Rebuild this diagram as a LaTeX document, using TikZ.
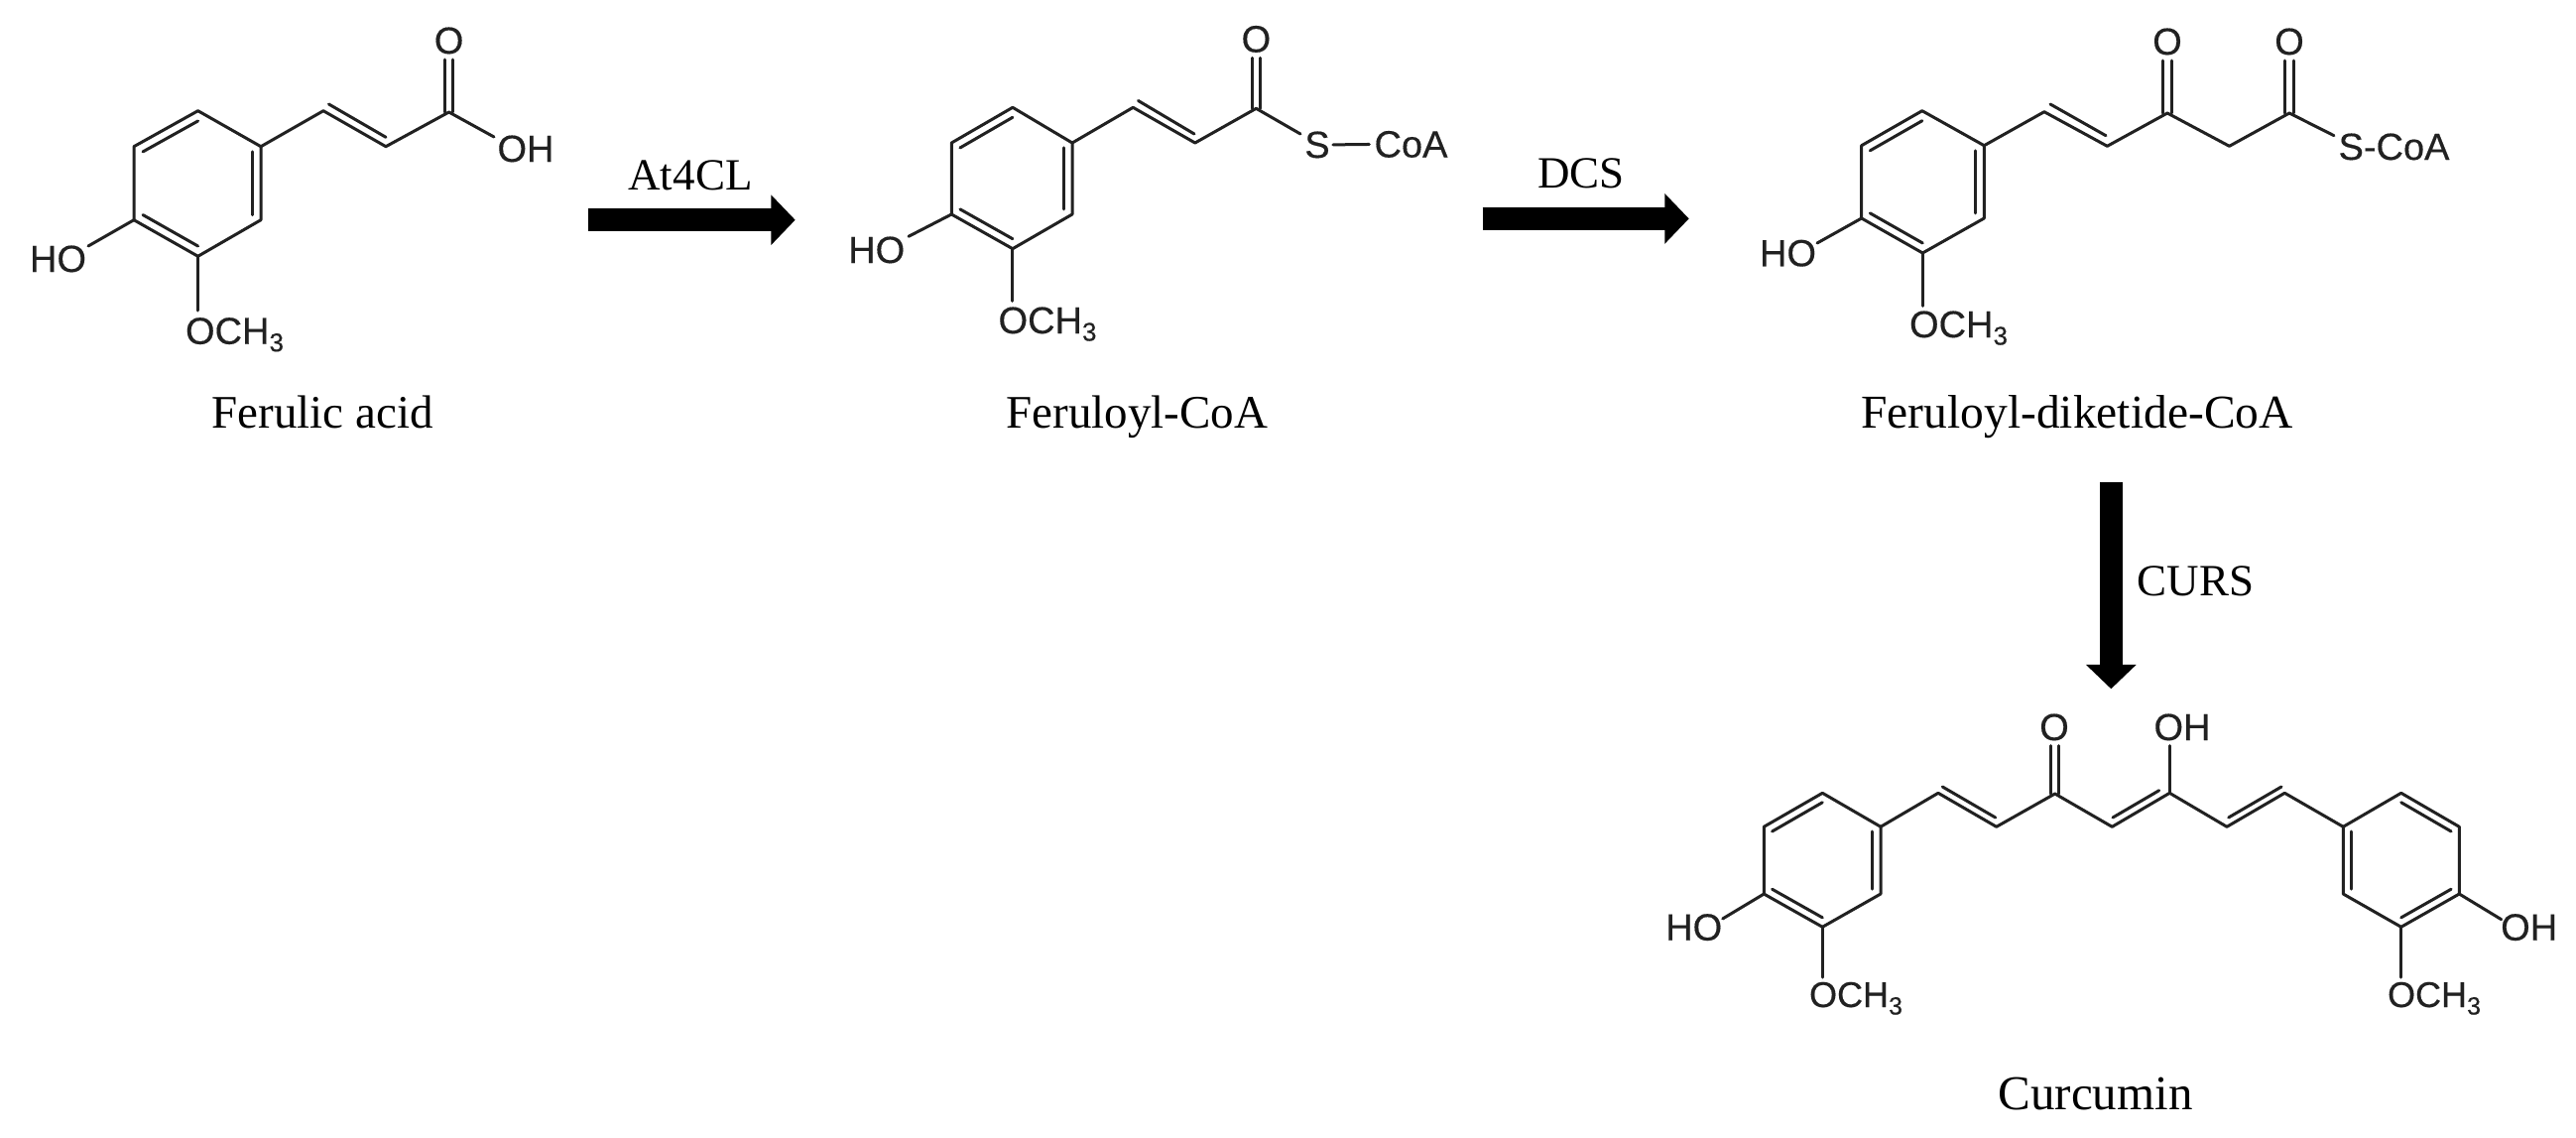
\documentclass[tikz,border=0pt]{standalone}
\usepackage{fontspec}
\setmainfont{Liberation Serif}
\newfontfamily\chemfont[FakeBold=0.35]{Liberation Sans}
\usetikzlibrary{calc,arrows.meta}
\definecolor{inkdark}{gray}{0.13}
\newcommand{\atomsize}[1]{\fontsize{#1}{#1}\selectfont}
\newcommand{\och}[1]{OCH\raisebox{-7.5pt}{\fontsize{#1}{#1}\selectfont 3}}
\newcommand{\ringbonds}[1]{%
  \coordinate (#1o) at ($(#1a)!.5!(#1d)$);
  \draw[bond] (#1a)--(#1b)--(#1c)--(#1d)--(#1e)--(#1f)--cycle;}
\newcommand{\innerbond}[3]{\draw[bond] ($(#1#2)!.14!(#1o)$) -- ($(#1#3)!.14!(#1o)$);}
\newcommand{\carbonyl}[2]{%
  \draw[bond] ([xshift=-4.2pt]#1) -- ([xshift=-4.2pt]#2);
  \draw[bond] ([xshift=4.2pt]#1) -- ([xshift=4.2pt]#2);}
\tikzset{
  x=1pt,y=-1pt,
  bond/.style={draw=inkdark,line width=3pt,line join=round,line cap=round},
  atom/.style={font=\chemfont\atomsize{38},text=inkdark,inner sep=0pt,anchor=base},
  atomsm/.style={font=\chemfont\atomsize{36},text=inkdark,inner sep=0pt,anchor=base},
  title/.style={font=\atomsize{47},text=black,inner sep=0pt,anchor=base},
  enzyme/.style={font=\atomsize{45},text=black,inner sep=0pt,anchor=base},
  fatarrow/.style={line width=23.3pt,draw=black,-{Triangle[length=24.4pt,width=49.3pt]}},
}
\begin{document}
\begin{tikzpicture}
\useasboundingbox (0,0) rectangle (2597,1146);
\fill[white] (0,0) rectangle (2597,1146);

%% Ferulic acid
\foreach \n/\x/\y in {a/199.6/111.7,b/263/147.7,c/263/221.7,d/199.6/258.3,e/135/221.7,f/135/147.7}
  \coordinate (A\n) at (\x,\y);
\ringbonds{A}
\innerbond{A}{f}{a}\innerbond{A}{b}{c}\innerbond{A}{e}{d}
\coordinate (A1) at (326,111.7);
\coordinate (A2) at (389,147.7);
\coordinate (A3) at (452.6,113);
\coordinate (A3o) at (452.6,60);
\coordinate (A3s) at (498,138);
\coordinate (Aho) at (89,248);
\coordinate (Ame) at (199.6,313);
\draw[bond] (Ab) -- (A1) -- (A2) -- (A3) -- (A3s);
\draw[bond] (331.5,105) -- (389,138.3);
\carbonyl{A3}{A3o}
\draw[bond] (Ae) -- (Aho);
\draw[bond] (Ad) -- (Ame);
\node[atom] (Ao) at (452.6,54) {O};
\node[atom] (Aoh) at (530,163) {OH};
\node[atom] (Ahot) at (58.5,274) {HO};
\node[atom] (Aoc) at (236.5,346.7) {\och{26}};
\node[title] (t1) at (325,431.7) {Ferulic acid};

%% Arrow 1
\coordinate (s1) at (593.3,221.7);
\coordinate (e1) at (801.7,221.7);
\draw[fatarrow] (s1) -- (e1);
\node[enzyme] (at4cl) at (696,191.7) {At4CL};

%% Feruloyl-CoA
\foreach \n/\x/\y in {a/1020.9/108.3,b/1081/144,c/1081/216,d/1020.9/250.7,e/959.3/216,f/959.3/144}
  \coordinate (B\n) at (\x,\y);
\ringbonds{B}
\innerbond{B}{f}{a}\innerbond{B}{b}{c}\innerbond{B}{e}{d}
\coordinate (B1) at (1142.3,108.3);
\coordinate (B2) at (1204.8,144);
\coordinate (B3) at (1266.4,109.3);
\coordinate (B3o) at (1266.4,58.3);
\coordinate (B3s) at (1311,135);
\coordinate (Bho) at (916,238.3);
\coordinate (Bme) at (1020.9,303.3);
\draw[bond] (Bb) -- (B1) -- (B2) -- (B3) -- (B3s);
\draw[bond] (1147.5,101.5) -- (1204,135);
\carbonyl{B3}{B3o}
\draw[bond] (Be) -- (Bho);
\draw[bond] (Bd) -- (Bme);
\node[atom] (Bo) at (1266.4,52.5) {O};
\node[atom] (Bst) at (1328,159) {S};
\node[atom] (Bcoa) at (1422.5,158.5) {CoA};
\draw[bond,shorten <=3pt,shorten >=5pt] (Bst.east) -- (Bcoa.west);
\node[atom] (Bhot) at (883.7,265) {HO};
\node[atom] (Boc) at (1056,336) {\och{26}};
\node[title] (t2) at (1146.5,431) {Feruloyl-CoA};

%% Arrow 2
\coordinate (s2) at (1494.7,220.4);
\coordinate (e2) at (1702.7,220.4);
\draw[fatarrow] (s2) -- (e2);
\node[enzyme] (dcs) at (1594,189.3) {DCS};

%% Feruloyl-diketide-CoA
\foreach \n/\x/\y in {a/1937.8/111.7,b/2000.3/146.7,c/2000.3/220,d/1938.3/255,e/1876.7/220,f/1876.7/146.7}
  \coordinate (C\n) at (\x,\y);
\ringbonds{C}
\innerbond{C}{f}{a}\innerbond{C}{b}{c}\innerbond{C}{e}{d}
\coordinate (C1) at (2060.9,112.7);
\coordinate (C2) at (2124.4,147.3);
\coordinate (C3) at (2185,114);
\coordinate (C4) at (2247.5,147.3);
\coordinate (C5) at (2308,114);
\coordinate (C3o) at (2185,61);
\coordinate (C5o) at (2308,61);
\coordinate (C5s) at (2353,136.7);
\coordinate (Cho) at (1832,245);
\coordinate (Cme) at (1938.3,308.3);
\draw[bond] (Cb) -- (C1) -- (C2) -- (C3) -- (C4) -- (C5) -- (C5s);
\draw[bond] (2067,105) -- (2123,136.7);
\carbonyl{C3}{C3o}
\carbonyl{C5}{C5o}
\draw[bond] (Ce) -- (Cho);
\draw[bond] (Cd) -- (Cme);
\node[atom] (Co1) at (2185,55) {O};
\node[atom] (Co2) at (2308,55) {O};
\node[atom] (Cs) at (2413.5,161) {S-CoA};
\node[atom] (Chot) at (1802.5,268.3) {HO};
\node[atom] (Coc) at (1974.5,340) {\och{26}};
\node[title,font=\atomsize{47.5}] (t3) at (2094,431.7) {Feruloyl-diketide-CoA};

%% Arrow 3
\coordinate (s3) at (2128.3,485.7);
\coordinate (e3) at (2128.3,694.3);
\draw[fatarrow] (s3) -- (e3);
\node[enzyme] (curs) at (2213.7,600) {CURS};

%% Curcumin
\foreach \n/\x/\y in {a/1837.3/799.3,b/1896/833.3,c/1896/901,d/1837.3/934.3,e/1778.3/901,f/1778.3/833.3}
  \coordinate (D\n) at (\x,\y);
\ringbonds{D}
\innerbond{D}{f}{a}\innerbond{D}{b}{c}\innerbond{D}{e}{d}
\foreach \n/\x/\y in {a/2420.7/799.3,b/2479.3/833.3,c/2479.3/901,d/2420.7/934.3,e/2362.3/901,f/2362.3/833.3}
  \coordinate (E\n) at (\x,\y);
\ringbonds{E}
\innerbond{E}{a}{b}\innerbond{E}{f}{e}\innerbond{E}{c}{d}
\coordinate (D1) at (1954,799.3);
\coordinate (D2) at (2012.7,833.3);
\coordinate (D3) at (2071.7,800);
\coordinate (D4) at (2129.3,833.3);
\coordinate (D5) at (2187.3,799.3);
\coordinate (D6) at (2245,833.3);
\coordinate (D7) at (2303.3,799.3);
\coordinate (D3o) at (2071.7,751.7);
\coordinate (D5o) at (2187.3,751.7);
\coordinate (Dho) at (1736.7,926);
\coordinate (Dme) at (1837.3,985);
\coordinate (Eho) at (2521.7,926.7);
\coordinate (Eme) at (2420.7,985);
\draw[bond] (Db) -- (D1) -- (D2) -- (D3) -- (D4) -- (D5) -- (D6) -- (D7) -- (Ef);
\draw[bond] (1958.3,793) -- (2011.7,824);
\draw[bond] (2130,824) -- (2176.7,796.7);
\draw[bond] (2246.7,824) -- (2300,793);
\carbonyl{D3}{D3o}
\draw[bond] (D5) -- (D5o);
\draw[bond] (De) -- (Dho);
\draw[bond] (Dd) -- (Dme);
\draw[bond] (Ec) -- (Eho);
\draw[bond] (Ed) -- (Eme);
\node[atom] (Do) at (2071,746) {O};
\node[atom] (Doh) at (2200,746) {OH};
\node[atom] (Dhot) at (1707.7,947.7) {HO};
\node[atomsm] (Doc) at (1871,1015) {\och{25}};
\node[atom] (Eoh) at (2549.7,947.7) {OH};
\node[atomsm] (Eoc) at (2454,1015) {\och{25}};
\node[title,font=\atomsize{49}] (t4) at (2112.5,1118.3) {Curcumin};
\end{tikzpicture}
\end{document}
